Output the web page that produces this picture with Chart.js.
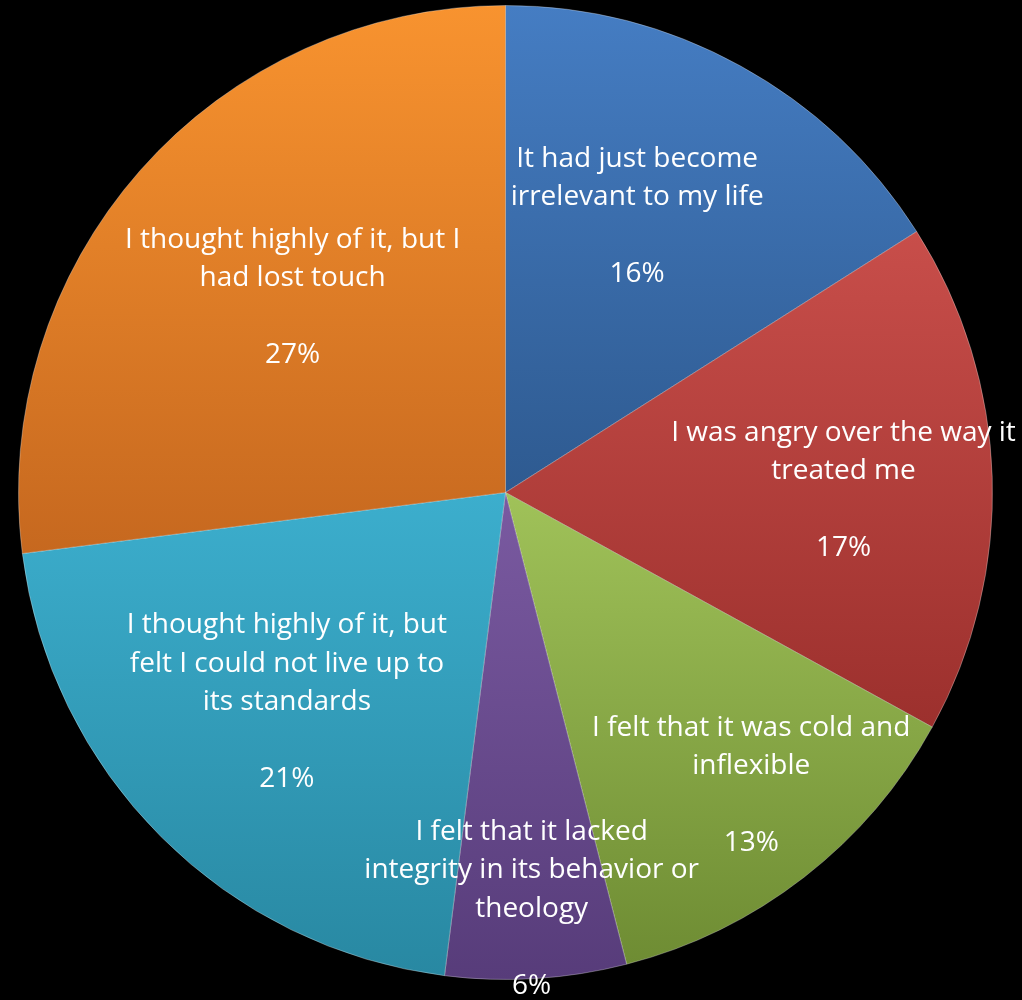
<!DOCTYPE html>
<html>
<head>
<meta charset="utf-8">
<script src="https://cdn.jsdelivr.net/npm/chart.js@4/dist/chart.umd.min.js"></script>
<style>
  html, body { margin: 0; padding: 0; background: #000; }
  #wrap { width: 1022px; height: 1000px; position: relative; }
</style>
</head>
<body>
<div id="wrap"><canvas id="pie"></canvas></div>
<script>
// data, clockwise from 12 o'clock
const categories = [
    ["It had just become", "irrelevant to my life"],
    ["I was angry over the way it", "treated me"],
    ["I felt that it was cold and", "inflexible"],
    ["I felt that it lacked", "integrity in its behavior or", "theology"],
    ["I thought highly of it, but", "felt I could not live up to", "its standards"],
    ["I thought highly of it, but I", "had lost touch"]
];
const values = [16, 17, 13, 6, 21, 27];

// slice colours: top of slice -> bottom of slice
const topColors = ["#457dc3", "#c84e4a", "#a0c259", "#7a5aa1", "#3caecd", "#f8932f"];
const bottomColors = ["#2e5a90", "#9c302d", "#6e8c33", "#573c7a", "#2888a2", "#c6681f"];

// label placement: fraction of radius and small turn in degrees
const labelDist = [0.628, 0.694, 0.785, 0.856, 0.622, 0.593];
const labelTurn = [-3.3, 1.5, -2.2, 0, 1.2, 1.1];

const total = values.reduce((a, b) => a + b, 0);

function sliceGradient(context) {
    const chart = context.chart;
    const area = chart.chartArea;
    const i = context.dataIndex;
    if (!area) return topColors[i];
    const cx = (area.left + area.right) / 2;
    const cy = (area.top + area.bottom) / 2;
    const r = Math.min(area.right - area.left, area.bottom - area.top) / 2;
    let before = 0;
    for (let k = 0; k < i; k++) before += values[k];
    const a0 = -Math.PI / 2 + 2 * Math.PI * before / total;
    const a1 = a0 + 2 * Math.PI * values[i] / total;
    const ys = [cy, cy + r * Math.sin(a0), cy + r * Math.sin(a1)];
    // check if the arc passes the top or the bottom of the circle
    [-Math.PI / 2, Math.PI / 2, 3 * Math.PI / 2].forEach(a => {
        if (a > a0 && a < a1) ys.push(cy + r * Math.sin(a));
    });
    const minY = Math.min(...ys), maxY = Math.max(...ys);
    const g = chart.ctx.createLinearGradient(0, minY, 0, maxY);
    g.addColorStop(0, topColors[i]);
    g.addColorStop(1, bottomColors[i]);
    return g;
}

const sliceLabels = {
    id: "sliceLabels",
    afterDatasetsDraw(chart) {
        const ctx = chart.ctx;
        const meta = chart.getDatasetMeta(0);
        ctx.save();
        ctx.fillStyle = "#ffffff";
        ctx.font = '28px "Open Sans"';
        ctx.textAlign = "center";
        ctx.textBaseline = "middle";
        meta.data.forEach((arc, i) => {
            const mid = (arc.startAngle + arc.endAngle) / 2 + labelTurn[i] * Math.PI / 180;
            const d = arc.outerRadius * labelDist[i];
            const x = arc.x + Math.cos(mid) * d;
            const y = arc.y + Math.sin(mid) * d;
            const lines = categories[i].concat(["", values[i] + "%"]);
            const lh = 38.5;
            lines.forEach((t, k) => {
                ctx.fillText(t, x, y + (k - (lines.length - 1) / 2) * lh);
            });
        });
        ctx.restore();
    }
};

new Chart(document.getElementById("pie"), {
    type: "pie",
    data: {
        labels: categories.map(c => c.join(" ")),
        datasets: [
            {
                data: values,
                backgroundColor: sliceGradient,
                borderColor: "rgba(255,255,255,0.3)",
                borderWidth: 1
            }
        ]
    },
    options: {
        responsive: true,
        maintainAspectRatio: false,
        animation: false,
        layout: {
            padding: { left: 18, right: 29, top: 5, bottom: 20 }
        },
        plugins: {
            legend: { display: false },
            tooltip: { enabled: false }
        }
    },
    plugins: [sliceLabels]
});
</script>
</body>
</html>
